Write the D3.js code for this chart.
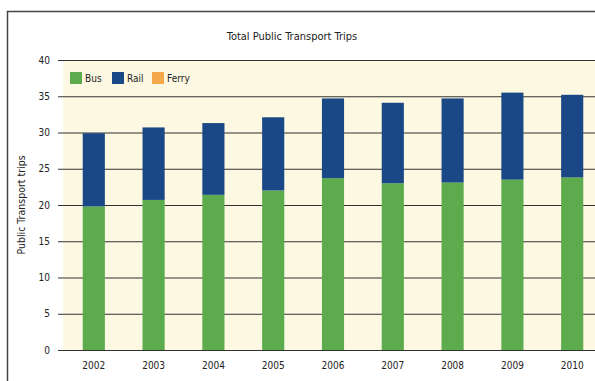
<!DOCTYPE html>
<html><head><meta charset="utf-8">
<script src="https://cdn.jsdelivr.net/npm/d3@7"></script>
<style>
html,body{margin:0;padding:0;background:#fff;}
svg{display:block;}
text{font-family:"DejaVu Sans Condensed","DejaVu Sans",sans-serif;font-stretch:condensed;fill:#222;}
</style></head>
<body><svg id="c" width="595" height="381"></svg>
<script>
const years = ["2002","2003","2004","2005","2006","2007","2008","2009","2010"];
const bus   = [19.8, 20.7, 21.4, 22.0, 23.7, 23.0, 23.1, 23.5, 23.8];
const rail  = [10.1, 10.0,  9.9, 10.1, 11.0, 11.1, 11.6, 12.0, 11.4];
const ferry = [0, 0, 0, 0, 0, 0, 0, 0, 0];
const seriesNames = ["Bus","Rail","Ferry"];
const colors = ["#5cab4d","#1a4886","#f4a84a"];
const yTicks = [0,5,10,15,20,25,30,35,40];

const svg = d3.select("#c");
const W = 595, H = 381;
const x0 = 63, x1 = 603;

// frame
svg.append("rect").attr("x",7.5).attr("y",11.5).attr("width",600).attr("height",400)
  .attr("fill","#fff").attr("stroke","#444").attr("stroke-width",1.5);

const y = d3.scaleLinear().domain([0,40]).range([350,60]);
const x = d3.scaleBand().domain(years).range([x0,x1]).paddingInner(0.63).paddingOuter(0.33);

// plot background
svg.append("rect").attr("x",x0).attr("y",y(40)).attr("width",W-x0).attr("height",y(0)-y(40))
  .attr("fill","#fcf8e2");

// gridlines
const yAxis = d3.axisLeft(y).tickValues(yTicks).tickSize(-(W-58)).tickPadding(8);
const ga = svg.append("g").attr("transform",`translate(58,0)`).call(yAxis);
ga.select(".domain").remove();
ga.selectAll(".tick line").attr("stroke","#333").attr("stroke-width",1.2);
ga.selectAll(".tick text").attr("font-size",10).attr("fill","#222");

// stacked bars
const data = years.map((yr,i)=>({year:yr, Bus:bus[i], Rail:rail[i], Ferry:ferry[i]}));
const stack = d3.stack().keys(seriesNames)(data);
svg.append("g").selectAll("g").data(stack).join("g")
  .attr("fill",(d,i)=>colors[i])
  .selectAll("rect").data(d=>d).join("rect")
  .attr("x",d=>x(d.data.year))
  .attr("width",x.bandwidth())
  .attr("y",d=>y(d[1]))
  .attr("height",d=>Math.max(0,y(d[0])-y(d[1])));

// x axis labels
const xa = svg.append("g").attr("transform",`translate(0,${y(0)})`).call(d3.axisBottom(x).tickSize(0).tickPadding(12));
xa.select(".domain").remove();
xa.selectAll(".tick text").attr("font-size",10).attr("fill","#222");

// title
svg.append("text").attr("x",292).attr("y",40).attr("text-anchor","middle")
  .attr("font-size",11).text("Total Public Transport Trips");

// y label
svg.append("text").attr("transform","translate(25,205) rotate(-90)").attr("text-anchor","middle")
  .attr("font-size",10.5).text("Public Transport trips");

// legend
const lg = svg.append("g").attr("transform","translate(70,72)");
const offs = [0,42,82];
seriesNames.forEach((n,i)=>{
  const g = lg.append("g").attr("transform",`translate(${offs[i]},0)`);
  g.append("rect").attr("width",12).attr("height",12).attr("fill",colors[i]);
  g.append("text").attr("x",15).attr("y",10).attr("font-size",10).text(n);
});
</script></body></html>
